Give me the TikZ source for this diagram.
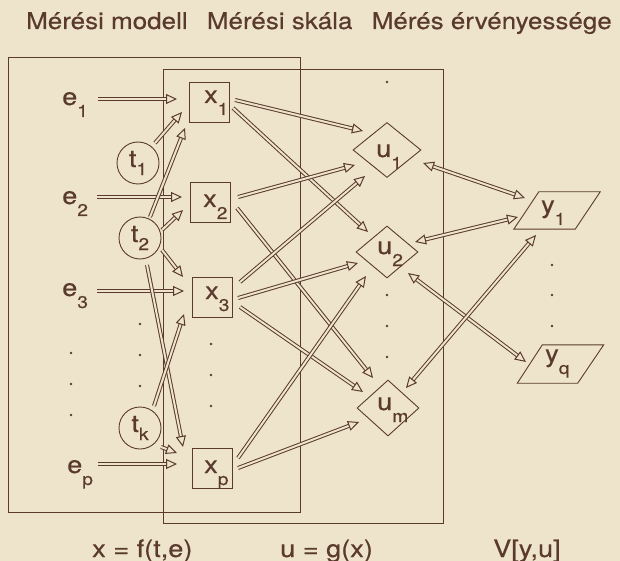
\documentclass[tikz,border=0pt]{standalone}
\usepackage{fontspec}
\setmainfont{TeX Gyre Heros}[FakeStretch=1.13, FakeBold=0.4]
\usetikzlibrary{arrows.meta,shapes.geometric,calc}
\definecolor{paper}{HTML}{EEE4CC}
\definecolor{ink}{HTML}{5A3A2C}
\newcommand\sbx[1]{\raisebox{-12bp}{\fontsize{17bp}{17bp}\selectfont #1}}
\newcommand\sbt[1]{\raisebox{-8bp}{\fontsize{17bp}{17bp}\selectfont #1}}
\begin{document}
\begin{tikzpicture}[x=1bp,y=-1bp,
  lab/.style={inner sep=0pt, text=ink, font=\fontsize{24bp}{27bp}\selectfont, anchor=base west},
  ttl/.style={lab, font=\fontsize{23bp}{26bp}\selectfont},
  frame/.style={draw=ink, line width=0.9bp},
  xbox/.style={frame, minimum size=40bp, inner sep=0pt},
  tcirc/.style={frame, circle, minimum size=42bp, inner sep=0pt, text=ink, font=\fontsize{24bp}{27bp}\selectfont},
  udia/.style={frame, diamond, minimum width=64bp, minimum height=54bp, inner sep=0pt},
  yfr/.style={minimum width=86bp, minimum height=37bp, inner sep=0pt},
  tip/.tip={Triangle[open, length=11bp, width=10bp]},
  arr/.style={draw=ink, line width=1bp, double=paper, double distance=2bp, -tip},
  barr/.style={arr, tip-tip}]
\fill[paper] (0,0) rectangle (620,561);
\useasboundingbox (0,0) rectangle (620,561);

% titles
\node[ttl] (h1) at (26,29) {Mérési modell};
\node[ttl, anchor=base east] (h3) at (612,29) {Mérés érvényessége};
\node[ttl, anchor=base] (h2) at ($(h1.base east)!0.5!(h3.base west)$) {Mérési skála};

% frames
\draw[frame] (8,57) rectangle (300,512);
\draw[frame] (163,69) rectangle (443,523);

% e labels
\node[lab] (e1) at (62,105) {e\sbx{1}};
\node[lab] (e2) at (62,204) {e\sbx{2}};
\node[lab] (e3) at (62,296) {e\sbx{3}};
\node[lab] (ep) at (67,473) {e\sbx{p}};

% t circles
\node[tcirc] (t1) at (138,163) {t\sbt{1}};
\node[tcirc] (t2) at (140,238) {t\sbt{2}};
\node[tcirc] (tk) at (140,428) {t\sbt{k}};

% x boxes
\node[xbox] (x1) at (209,102) {};
\node[xbox] (x2) at (210,202) {};
\node[xbox] (x3) at (212,297) {};
\node[xbox] (xp) at (212,468) {};
\node[lab] (lx1) at (204,103) {x\sbx{1}};
\node[lab] (lx2) at (203,207) {x\sbx{2}};
\node[lab] (lx3) at (205,299) {x\sbx{3}};
\node[lab] (lxp) at (204,473) {x\sbx{p}};

% u diamonds
\node[udia, minimum width=68bp, minimum height=55bp] (u1) at (387,150) {};
\node[udia, minimum width=62bp, minimum height=52bp] (u2) at (387,252) {};
\node[udia, minimum width=62bp, minimum height=56bp] (um) at (388,408) {};
\node[lab] (lu1) at (376,157) {u\sbx{1}};
\node[lab] (lu2) at (377,254) {u\sbx{2}};
\node[lab] (lum) at (377,410) {u\sbx{m}};

% y parallelograms
\node[yfr] (y1) at (557,210.5) {};
\node[yfr, minimum height=38bp] (yq) at (560.5,364) {};
\draw[frame] ([xshift=25bp]y1.north west) -- (y1.north east) -- ([xshift=-25bp]y1.south east) -- (y1.south west) -- cycle;
\draw[frame] ([xshift=25bp]yq.north west) -- (yq.north east) -- ([xshift=-26bp]yq.south east) -- (yq.south west) -- cycle;
\node[lab] (ly1) at (541,213) {y\sbx{1}};
\node[lab] (lyq) at (545,362) {y\sbx{q}};

% dots
\foreach \xx/\yy in {71/353,71/384,71/415,140/324,140/355,140/386,211/344,211/375,211/406,
                     387/82,387/295,387/326,387/357,552/265,552/295,552/326}
  \fill[ink] (\xx,\yy) circle (1.4bp);

% e -> x
\draw[arr] ([shift={(36,-6)}]e1.base west) -- ([shift={(-32,-3)}]x1.center);
\draw[arr] ([shift={(35,-7)}]e2.base west) -- ([shift={(-28,-5)}]x2.center);
\draw[arr] ([shift={(35,-5)}]e3.base west) -- ([shift={(-28,-6)}]x3.center);
\draw[arr] ([shift={(31,-9)}]ep.base west) -- ([shift={(-35,-4)}]xp.center);

% t -> x
\draw[arr] ([shift={(17,-20)}]t1.center) -- ([shift={(-27,10)}]x1.center);
\draw[arr] ([shift={(10,-21)}]t2.center) -- ([shift={(-24,26)}]x1.center);
\draw[arr] ([shift={(22,-8)}]t2.center) -- ([shift={(-27,8)}]x2.center);
\draw[arr] ([shift={(22,12)}]t2.center) -- ([shift={(-29,-20)}]x3.center);
\draw[arr] ([shift={(7,27)}]t2.center) -- ([shift={(-29,-21)}]xp.center);
\draw[arr] ([shift={(14,-22)}]tk.center) -- ([shift={(-28,17)}]x3.center);
\draw[arr] ([shift={(21,19)}]tk.center) -- ([shift={(-35,-15)}]xp.center);

% x -> u
\draw[arr] ([shift={(26,-2)}]x1.center) -- ([shift={(-24,-19)}]u1.center);
\draw[arr] ([shift={(24,6)}]x1.center) -- ([shift={(-19,-20)}]u2.center);
\draw[arr] ([shift={(28,-5)}]x2.center) -- ([shift={(-32,15)}]u1.center);
\draw[arr] ([shift={(27,6)}]x2.center) -- ([shift={(-15,-30)}]um.center);
\draw[arr] ([shift={(28,-15)}]x3.center) -- ([shift={(-22,26)}]u1.center);
\draw[arr] ([shift={(26,1)}]x3.center) -- ([shift={(-29,11)}]u2.center);
\draw[arr] ([shift={(28,10)}]x3.center) -- ([shift={(-25,-16)}]um.center);
\draw[arr] ([shift={(26,-10)}]xp.center) -- ([shift={(-21,24)}]u2.center);
\draw[arr] ([shift={(26,0)}]xp.center) -- ([shift={(-29,14)}]um.center);

% u <-> y
\draw[barr] ([shift={(36,13)}]u1.center) -- ([shift={(-32,-12.5)}]y1.center);
\draw[barr] ([shift={(28,-10)}]u2.center) -- ([shift={(-39,6.5)}]y1.center);
\draw[barr] ([shift={(21,21)}]u2.center) -- ([shift={(-34.5,-2)}]yq.center);
\draw[barr] ([shift={(18,-20)}]um.center) -- ([shift={(-21,24.5)}]y1.center);

% bottom formulas
\node[lab] (f1) at (92,557) {x = f(t,e)};
\node[lab] (f2) at (280,557) {u = g(x)};
\node[lab] (f3) at (493,557) {V[y,u]};
\end{tikzpicture}
\end{document}
